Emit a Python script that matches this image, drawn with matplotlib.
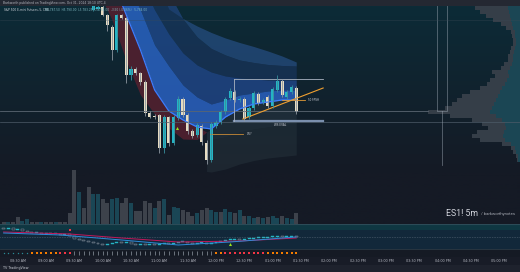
import matplotlib
matplotlib.use("Agg")
import matplotlib.pyplot as plt
import numpy as np
from matplotlib.patches import Rectangle
from matplotlib.colors import LinearSegmentedColormap

W, H = 520, 272
BG = '#131722'

# ES1! 5 min bars, index 0 = the 12:00 PM bar
bar_idx = list(range(-26, 18))
bar_open = [5875, 5875.5, 5876.5, 5872.5, 5866.5, 5855, 5872.5, 5871, 5842.5, 5845.5,
            5843.5, 5839, 5823.5, 5822, 5822.5, 5806, 5821.5, 5808.5, 5821, 5830.5,
            5822.5, 5814.5, 5812.5, 5817, 5808.5, 5800, 5817, 5819, 5824, 5831,
            5834, 5830, 5830.5, 5821.5, 5826, 5833, 5829, 5831.5, 5827, 5835,
            5839.5, 5831.5, 5834, 5836]
bar_close = [5877, 5876.5, 5872.5, 5867.5, 5855, 5872.5, 5871, 5842.5, 5845.5, 5843.5,
             5839, 5823.5, 5821.5, 5821.5, 5806, 5821.5, 5808.5, 5821.5, 5830.5, 5822.5,
             5814.5, 5812, 5817.5, 5809, 5800, 5818, 5819, 5824, 5830.5, 5834.5,
             5830, 5830.5, 5820.5, 5826, 5833.5, 5828.5, 5830, 5827, 5835.5, 5839.5,
             5832.5, 5834, 5836.5, 5824]
bar_high = [5878, 5877.5, 5877.5, 5873, 5867.5, 5873, 5873, 5871.5, 5847, 5846.5,
            5844, 5840, 5824.5, 5823, 5823, 5822.5, 5822, 5822.5, 5832, 5831.5,
            5823.5, 5815.5, 5818.5, 5818, 5810, 5819, 5820, 5825, 5831.5, 5836,
            5835, 5831.5, 5831.5, 5827, 5834.5, 5834, 5831, 5832.5, 5836.5, 5842.5,
            5840.5, 5835, 5837.5, 5837]
bar_low = [5874.5, 5875, 5872, 5864.5, 5850, 5854, 5870.5, 5838.5, 5840, 5842.5,
           5837.5, 5822, 5821, 5820.5, 5803.5, 5803.5, 5807, 5807.5, 5820, 5821.5,
           5813, 5811, 5811.5, 5807.5, 5798, 5799, 5816, 5818, 5823, 5830,
           5829, 5829, 5819.5, 5820.5, 5825, 5827.5, 5828, 5826, 5826, 5834,
           5831.5, 5830.5, 5833, 5823]

# volume of every bar in view (earlier bars sit above the visible price range)
vol_idx = list(range(-45, 18))
volume = [1000, 1000, 1150, 3350, 1650, 2350, 1000, 1000, 1000, 1000, 1150, 1000, 1000, 1000, 5350, 27000,
          16000, 8000, 18500, 15000, 15000, 12500, 10500, 12500, 13000, 10500, 13000, 10500, 6500, 6500, 11500, 10500,
          8000, 11500, 12500, 4500, 8500, 8000, 7000, 6000, 4000, 5500, 7000, 8000, 7000, 6000, 6000, 7500,
          6000, 5500, 7000, 4000, 4000, 3000, 3500, 3000, 3500, 4000, 3000, 4000, 3000, 2500, 5500]
vol_color = "gtggttggtggtgggg" "tggttggttggtgggg" "tgtgttgggtggttgt" "tgtgttgtgttgttg"

# moving-average ribbon (knots read at bar indexes)
band_idx = [-25, -22, -19, -16, -13, -10, -7, -4, -1, 2, 5, 8, 11, 14, 17]
ma_fast = [5907.5, 5890, 5872.5, 5855, 5835, 5824.5, 5820, 5816.5, 5815.5, 5821.5, 5825.5, 5828, 5829, 5830, 5830]
ma_2 = [5922.5, 5906, 5889.5, 5875, 5857.5, 5847, 5837.5, 5831.5, 5828, 5830, 5832.5, 5833.5, 5834.5, 5835, 5835]
ma_3 = [5942.5, 5925, 5907.5, 5890, 5875, 5863, 5853.5, 5847.5, 5844, 5842, 5841, 5840.5, 5840, 5840, 5840]
ma_4 = [5952.5, 5937.5, 5922.5, 5910, 5895, 5883.5, 5870.5, 5861.5, 5855.75, 5852.5, 5850, 5848.75, 5847.75, 5847.25, 5847]
ma_5 = [5980, 5955, 5935, 5915, 5892.5, 5875.5, 5870.75, 5867, 5863.75, 5861, 5858.75, 5856.75, 5854.5, 5852, 5849]

# bearish cloud between the fast line and the ribbon
red_idx = [-25, -22, -19, -16, -13, -10, -7, -4, -2]
red_top = [5907.5, 5890, 5872.5, 5855, 5835, 5824.5, 5820, 5816.5, 5814]
red_bot = [5884.5, 5870, 5849.5, 5832.5, 5823, 5816, 5810.5, 5810.25, 5814]

# lower grey bands
grey_idx = [-2, -1, 2, 5, 8, 11, 14, 17]
grey_top = [5814, 5815.5, 5821.5, 5825.5, 5828, 5829.25, 5830, 5830]
grey_mid = [5810, 5810.25, 5811.5, 5814, 5815.5, 5816.5, 5817.75, 5818]
grey_bot = [5794.25, 5794, 5795.5, 5798, 5799.75, 5801, 5801.75, 5802.5]

# volume profile rows
vp_price = np.arange(5876, 5798, -2)
vp_total = [45, 40, 34, 27, 19, 14, 9, 8, 7, 7, 9, 10, 12, 12, 16, 19, 28, 25, 30, 33,
            40, 50, 58, 63, 68, 75, 92, 70, 48, 38, 32, 43, 48, 40, 18, 9, 7, 4, 3]
vp_up = [12, 11, 10, 9, 8, 7, 5, 5, 4, 4, 5, 6, 7, 7, 8, 10, 12, 11, 13, 15,
         18, 20, 22, 24, 26, 28, 30, 24, 18, 15, 14, 16, 17, 15, 9, 5, 4, 2, 2]

# lower oscillator pane
osc = [20, 21, 19, 20, 18, 17, 16, 16, 15, 16, 15, 15, 14, 15, 13, 10,
       9, 8, 7, 6, 5, 4, 5, 6, 7, 6, 7, 5, 4, 5, 4, 5,
       4, 5, 6, 5, 6, 7, 7, 6, 5, 6, 6, 5, 6, 7, 8, 9,
       9, 10, 9, 10, 10, 11, 11, 11, 12, 12, 13, 12, 12, 13, 12]
osc_red_idx = [-45, -31, -20, -8, 5, 17]
osc_red = [17, 15, 11, 7, 8, 11]
osc_blue_idx = [-45, -33, -20, -8, 3, 17]
osc_blue = [16, 14, 9, 4, 7, 12]

# signal dots row
dot_type = "tttttt" "oooooo" "rrr" + "g" * 30 + "oo" + "r" * 9 + "o" * 7

tick_pos = list(range(-42, 61, 6))
tick_labels = ["08:30 AM", "09:00 AM", "09:30 AM", "10:00 AM", "10:30 AM", "11:00 AM",
               "11:30 AM", "12:00 PM", "12:30 PM", "01:00 PM", "01:30 PM", "02:00 PM",
               "02:30 PM", "03:00 PM", "03:30 PM", "04:00 PM", "04:30 PM", "05:00 PM"]

TEAL = '#25b4c4'
CREAM = '#e6dcc2'

fig = plt.figure(figsize=(W / 100, H / 100), dpi=100)
fig.patch.set_facecolor(BG)


def px_axes(x0, y0, x1, y1, face='none'):
    a = fig.add_axes([x0 / W, 1 - y1 / H, (x1 - x0) / W, (y1 - y0) / H])
    a.set_facecolor(face)
    a.set_xticks([])
    a.set_yticks([])
    for s in a.spines.values():
        s.set_visible(False)
    return a


XL = (-216 / 4.72, (520 - 216) / 4.72)
YL = (5768, 5877)

# price pane background
bg = px_axes(0, 6, 520, 224)
grad = np.clip(np.linspace(0, 1.3, 200), 0, 1).reshape(-1, 1)
cmap = LinearSegmentedColormap.from_list('bg', ['#0c2b37', '#151a25'])
bg.imshow(grad, aspect='auto', cmap=cmap, extent=(0, 1, 0, 1), origin='upper')
bg.set_xlim(0, 1)
bg.set_ylim(0, 1)

# volume profile
vp = px_axes(420, 6, 520, 224)
vp.set_xlim(100, 0)
vp.set_ylim(*YL)
vp.barh(vp_price, vp_total, height=1.6, color='#353e48')
vp.barh(vp_price, vp_up, height=1.6, color='#1b4654')

ax = px_axes(0, 6, 520, 224)
ax.set_xlim(*XL)
ax.set_ylim(*YL)

# ribbon
ax.fill_between(band_idx, ma_4, ma_5, color='#2a5693', alpha=0.6, lw=0)
ax.fill_between(band_idx, ma_3, ma_4, color='#1b3a6a', alpha=0.55, lw=0)
ax.fill_between(band_idx, ma_2, ma_3, color='#2553a8', alpha=0.6, lw=0)
ax.fill_between(band_idx, ma_fast, ma_2, color='#2f6fe0', alpha=0.7, lw=0)
ax.fill_between(red_idx, red_bot, red_top, color='#55202f', alpha=0.85, lw=0)
ax.fill_between(grey_idx, grey_mid, grey_top, color='#2c3d48', alpha=0.45, lw=0)
ax.fill_between(grey_idx, grey_bot, grey_mid, color='#28363f', alpha=0.45, lw=0)
ax.plot(band_idx, ma_fast, color='#3d7eff', lw=0.9)

# horizontal levels
ax.axhline(5870, color='#3a4a56', lw=0.4, alpha=0.6)
ax.plot([XL[0], 45], [5824.5, 5824.5], color='#5a6672', lw=0.6)
ax.axhline(5819, color='#4d5b69', lw=0.5)

# range box and trend line
ax.plot([3.8, 22.7], [5840.5, 5840.5], color='#aab3c0', lw=0.6)
ax.plot([3.8, 22.7], [5819.5, 5819.5], color='#7a8fae', lw=1.6)
ax.plot([3.8, 3.8], [5819.5, 5840.5], color='#aab3c0', lw=0.6)
ax.plot([5.7, 22.7], [5820.5, 5836], color='#f0a030', lw=0.8)
ax.plot([14, 18.9], [5830, 5830], color='#e09a38', lw=0.6)
ax.plot([-1.3, 5.7], [5813, 5813], color='#c88a36', lw=0.6)
ax.text(19.5, 5830, "50 FPSH", color='#c9ccd4', fontsize=2, va='center')
ax.text(6.6, 5813, "0.5?", color='#c9ccd4', fontsize=2, va='center')
ax.text(13.6, 5817.3, "WS EVAL", color='#c9ccd4', fontsize=2, va='center', ha='center')

# session box outline
ax.add_patch(Rectangle((46.8, 5824.5), 2.1, 60, fill=False, ec='#9aa5b1', lw=0.6, alpha=0.55))
ax.plot([47.9, 47.9], [5824.5, 5797.5], color='#9aa5b1', lw=0.6, alpha=0.55)

# candles
for i, o, h, l, c in zip(bar_idx, bar_open, bar_high, bar_low, bar_close):
    col = TEAL if c >= o else CREAM
    ax.vlines(i, l, h, color='#8d96a0' if c < o else '#3a8e9c', lw=0.6)
    ax.bar(i, max(abs(c - o), 0.6), bottom=min(o, c), width=0.66, color=col, lw=0)

ax.plot([-8.3], [5816], marker='^', color='#9be31c', ms=2.2, mew=0)

# volume
av = px_axes(0, 165, 520, 224)
av.set_xlim(*XL)
av.set_ylim(0, 27000 * 59 / 54)
av.bar(vol_idx, volume, width=0.84,
       color=['#1a4655' if k == 't' else '#3d424b' for k in vol_color], lw=0)

# oscillator pane
so = px_axes(0, 224, 520, 249, face='#12283a')
so.set_xlim(*XL)
so.set_ylim(0, 25)
so.axhspan(19, 25, color='#0f3742', lw=0)
so.axhline(24.8, color='#2c4b57', lw=0.8)
so.axhline(12, color='#7d8a98', lw=0.4, ls=(0, (1, 2)))
prev = osc[0] + 1
for i, v in zip(vol_idx, osc):
    up = v >= prev
    so.bar(i, max(abs(v - prev), 0.9), bottom=min(v, prev), width=0.62,
           color=TEAL if up else '#12283a', ec=TEAL if up else '#9aa4ae', lw=0.3)
    prev = v
so.plot(osc_red_idx, osc_red, color='#c2185b', lw=0.7)
so.plot(osc_blue_idx, osc_blue, color='#2e8bd8', lw=0.7)
so.plot([-31], [19.5], marker='s', color='#f23645', ms=1.6, mew=0)
so.plot([3], [5], marker='^', color='#9be31c', ms=2.2, mew=0)

# signal dots
sd = px_axes(0, 249, 520, 257, face='#151a24')
sd.set_xlim(*XL)
sd.set_ylim(0, 1)
sd.axhline(0.98, color='#2b3a45', lw=0.6)
dot_style = {'t': ('o', '#2a8a96', 1.0), 'o': ('s', '#f57c00', 1.7),
             'r': ('s', '#f23645', 1.7), 'g': ('|', '#8e97a2', 2.2)}
for i, k in zip(vol_idx, dot_type):
    m, col, ms = dot_style[k]
    sd.plot([i], [0.45], marker=m, color=col, ms=ms, mew=0.5 if m == '|' else 0)

# time axis
ta = px_axes(0, 257, 520, 265, face='#181c27')
ta.set_xlim(*XL)
ta.set_ylim(0, 1)
for p, lab in zip(tick_pos, tick_labels):
    ta.text(p, 0.45, lab, color='#b2b5be', fontsize=2.4, ha='center', va='center')

hd = px_axes(0, 0, 520, 6, face='#242832')
bt = px_axes(0, 265, 520, 272, face='#1e222d')

fig.text(3 / W, 1 - 3 / H, "Barkworth published on TradingView.com, Oct 31, 2024 18:10 UTC-4",
         color='#b2b5be', fontsize=2.2, va='center')
fig.text(4 / W, 1 - 10 / H, "S&P 500 E-mini Futures, 5, CME", color='#d1d4dc', fontsize=2.1, va='center')
fig.text(45 / W, 1 - 10 / H, "O5,787.50  H5,790.00  L5,783.25  C5,784.00  -3.50 (-0.06%)   5,784.00",
         color='#7fb8c0', fontsize=2.1, va='center')
fig.text(3 / W, 1 - 268.5 / H, "TV TradingView", color='#c9ccd4', fontsize=2.4, va='center')
fig.text(446 / W, 1 - 214 / H, "ES1! 5m", color='#d1d4dc', fontsize=6.3, va='center',
         family=['Roboto', 'DejaVu Sans'])
fig.text(481 / W, 1 - 214 / H, "/ barkworthynotes", color='#a0a4ad', fontsize=3.1, va='center',
         family=['Roboto', 'DejaVu Sans'])

fig.savefig('out.png', dpi=100, facecolor=BG)
